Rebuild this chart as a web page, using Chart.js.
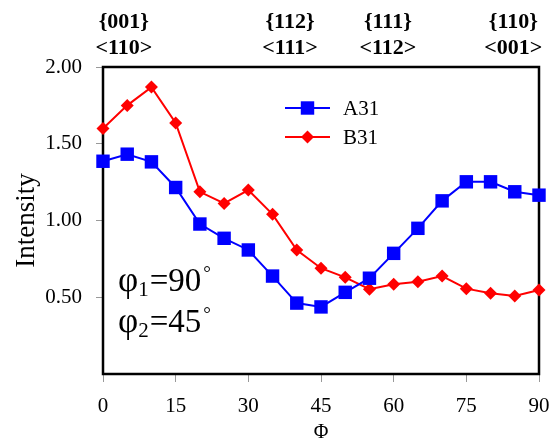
<!DOCTYPE html>
<html><head><meta charset="utf-8">
<script src="https://cdn.jsdelivr.net/npm/chart.js@4/dist/chart.umd.min.js"></script>
<style>html,body{margin:0;padding:0;background:#fff}#wrap{width:556px;height:439px;position:relative}</style>
</head><body><div id="wrap"><canvas id="c" width="556" height="439"></canvas></div>
<script>
// ---- data ----
const phi = [0,5,10,15,20,25,30,35,40,45,50,55,60,65,70,75,80,85,90];
const a31 = [1.386,1.432,1.382,1.215,0.977,0.884,0.808,0.638,0.462,0.437,0.532,0.624,0.786,0.949,1.128,1.252,1.252,1.187,1.165];
const b31 = [1.599,1.750,1.869,1.635,1.187,1.111,1.198,1.040,0.808,0.689,0.630,0.552,0.585,0.601,0.638,0.556,0.526,0.508,0.547];
const seriesNames = ['A31','B31'];
const xTicks = [0,15,30,45,60,75,90];
const yTicks = [0.5,1.0,1.5,2.0];
const orientTop = ['{001}','{112}','{111}','{110}'];
const orientBottom = ['<110>','<111>','<112>','<001>'];
const orientPos = [4.3,38.6,58.8,84.7];
const angleLines = [['φ','1','=90'],['φ','2','=45']];

const FONT = '"Liberation Serif","Times New Roman",serif';

const textPlugin = {
  id: 'texts',
  beforeDatasetsDraw(chart) {
    const {ctx, chartArea: a} = chart;
    ctx.save();
    ctx.strokeStyle = '#000';
    ctx.lineWidth = 2.5;
    ctx.strokeRect(a.left, a.top, a.right - a.left, a.bottom - a.top);
    ctx.restore();
  },
  afterDraw(chart) {
    const {ctx, chartArea: a, scales} = chart;
    const xs = scales.x;
    ctx.save();
    ctx.fillStyle = '#000';
    // orientation labels
    ctx.font = 'bold 22px ' + FONT;
    ctx.textAlign = 'center';
    ctx.textBaseline = 'middle';
    orientPos.forEach((p, i) => {
      const x = xs.getPixelForValue(p);
      ctx.fillText(orientTop[i], x, a.top - 45);
      ctx.fillText(orientBottom[i], x, a.top - 19);
    });
    // angle annotations
    ctx.textAlign = 'left';
    ctx.textBaseline = 'alphabetic';
    angleLines.forEach((ln, i) => {
      let x = a.left + 15;
      const base = a.top + 224 + i * 41;
      ctx.font = '35px ' + FONT;
      ctx.fillText(ln[0], x, base); x += ctx.measureText(ln[0]).width;
      ctx.font = '21px ' + FONT;
      ctx.fillText(ln[1], x, base + 5); x += ctx.measureText(ln[1]).width + 1;
      ctx.font = '33px ' + FONT;
      ctx.fillText(ln[2], x, base); x += ctx.measureText(ln[2]).width + 2;
      ctx.font = '19px ' + FONT;
      ctx.fillText('°', x, base - 12);
    });
    // legend
    chart.data.datasets.forEach((ds, i) => {
      const y = a.top + 41 + i * 29;
      const x0 = a.left + 182, x1 = a.left + 227, xm = (x0 + x1) / 2;
      ctx.strokeStyle = ds.borderColor;
      ctx.lineWidth = ds.borderWidth;
      ctx.beginPath(); ctx.moveTo(x0, y); ctx.lineTo(x1, y); ctx.stroke();
      ctx.fillStyle = ds.pointBackgroundColor;
      ctx.beginPath();
      if (ds.pointStyle === 'rect') {
        const s = ds.pointRadius * Math.SQRT1_2;
        ctx.rect(xm - s, y - s, 2 * s, 2 * s);
      } else {
        const r = ds.pointRadius;
        ctx.moveTo(xm, y - r); ctx.lineTo(xm + r, y); ctx.lineTo(xm, y + r); ctx.lineTo(xm - r, y); ctx.closePath();
      }
      ctx.fill();
      ctx.fillStyle = '#000';
      ctx.font = '21px ' + FONT;
      ctx.textAlign = 'left';
      ctx.textBaseline = 'middle';
      ctx.fillText(ds.label, a.left + 240, y + 1);
    });
    ctx.restore();
  }
};

const mk = (ys) => phi.map((x, i) => ({x, y: ys[i]}));

new Chart(document.getElementById('c'), {
  type: 'line',
  data: {
    datasets: [
      {label: seriesNames[0], data: mk(a31), borderColor: '#0000ff', backgroundColor: '#0000ff',
       pointBackgroundColor: '#0000ff', pointBorderWidth: 0, borderWidth: 2, pointStyle: 'rect', pointRadius: 9.5,
       clip: false, tension: 0},
      {label: seriesNames[1], data: mk(b31), borderColor: '#ff0000', backgroundColor: '#ff0000',
       pointBackgroundColor: '#ff0000', pointBorderWidth: 0, borderWidth: 2, pointStyle: 'rectRot', pointRadius: 6.5,
       clip: false, tension: 0}
    ]
  },
  options: {
    responsive: false,
    animation: false,
    devicePixelRatio: 1,
    layout: {padding: {left: 0, top: 67, right: 17, bottom: 0}},
    plugins: {legend: {display: false}, tooltip: {enabled: false}},
    scales: {
      x: {
        type: 'linear', min: 0, max: 90,
        afterBuildTicks: (s) => { s.ticks = xTicks.map(v => ({value: v})); },
        afterFit: (s) => { s.height = 65; s.paddingLeft = 0; s.paddingRight = 0; },
        grid: {drawOnChartArea: false, drawTicks: true, tickLength: 8, color: '#999', lineWidth: 1},
        border: {display: false},
        ticks: {font: {family: FONT, size: 21}, color: '#000', padding: 12, maxRotation: 0},
        title: {display: true, text: 'Φ', font: {family: FONT, size: 20}, color: '#000', padding: {top: 0, bottom: -6}}
      },
      y: {
        min: 0, max: 2,
        afterBuildTicks: (s) => { s.ticks = yTicks.map(v => ({value: v})); },
        afterFit: (s) => { s.width = 103; s.paddingTop = 0; s.paddingBottom = 0; },
        grid: {drawOnChartArea: false, drawTicks: true, tickLength: 7, color: '#999', lineWidth: 1},
        border: {display: false},
        ticks: {font: {family: FONT, size: 21}, color: '#000', padding: 14, callback: (v) => Number(v).toFixed(2)},
        title: {display: true, text: 'Intensity', font: {family: FONT, size: 27}, color: '#000', padding: {top: 11, bottom: 0}}
      }
    }
  },
  plugins: [textPlugin]
});
</script></body></html>
